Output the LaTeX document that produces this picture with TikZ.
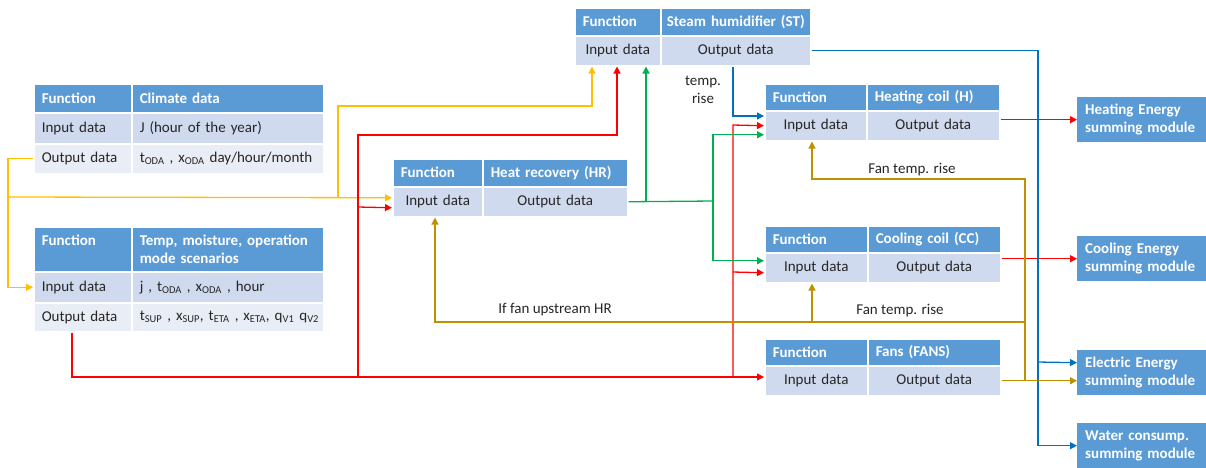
\documentclass[tikz,border=0pt]{standalone}
\usepackage{fontspec}
\setmainfont{Carlito}
\usetikzlibrary{arrows.meta}
\definecolor{hblue}{HTML}{5B9BD5}
\definecolor{bandA}{HTML}{D0DAEE}
\definecolor{bandB}{HTML}{E9EDF5}
\definecolor{ylw}{HTML}{FFC000}
\definecolor{gld}{HTML}{BF9000}
\definecolor{rd}{HTML}{FF0000}
\definecolor{blu}{HTML}{0070C0}
\definecolor{grn}{HTML}{00B050}
\definecolor{txt}{HTML}{262626}
\newcommand\cell[8]{%
  \pgfmathsetmacro\celltw{#4-16}%
  \node[#6, minimum width=#4pt, minimum height=#5pt, text width=\celltw pt, align=#7] (#1) at (#2,#3) {#8};}
\tikzset{
  cellbase/.style={draw=white, line width=1.5pt, inner xsep=8pt, inner ysep=0pt, anchor=north west},
  hdr/.style={cellbase, fill=hblue, text=white, font=\fontsize{15}{18}\selectfont\bfseries},
  bA/.style={cellbase, fill=bandA, text=txt},
  bB/.style={cellbase, fill=bandB, text=txt},
  modbox/.style={fill=hblue, text=white, font=\fontsize{15}{18}\selectfont\bfseries, anchor=north west,
    minimum width=129pt, minimum height=45pt, text width=113pt, inner xsep=8pt, inner ysep=0pt, align=left},
  ln/.style={line width=1.3pt},
  arr/.style={-{Triangle[length=7pt,width=7pt]}},
  lbl/.style={text=txt, align=center, inner sep=1pt},
}
\begin{document}
\begin{tikzpicture}[x=1pt,y=-1pt, font=\fontsize{15}{18}\selectfont]
\useasboundingbox (0,0) rectangle (1206,467);
% Climate data
\cell{Cf}{33}{83}{98}{29}{hdr}{left}{Function}
\cell{Ct}{131}{83}{192}{29}{hdr}{left}{Climate data}
\cell{Ci}{33}{112}{98}{31}{bA}{left}{Input data}
\cell{Civ}{131}{112}{192}{31}{bA}{left}{J (hour of the year)}
\cell{Co}{33}{143}{98}{30}{bB}{left}{Output data}
\cell{Cov}{131}{143}{192}{30}{bB}{left}{t\textsubscript{ODA} , x\textsubscript{ODA} day/hour/month}
% Scenarios
\cell{Sf}{33}{226}{98}{45}{hdr}{left}{Function\\~}
\cell{St}{131}{226}{192}{45}{hdr}{left}{\mbox{Temp, moisture, operation}\\mode scenarios}
\cell{Si}{33}{271}{98}{31}{bA}{left}{Input data}
\cell{Siv}{131}{271}{192}{31}{bA}{left}{j , t\textsubscript{ODA} , x\textsubscript{ODA} , hour}
\cell{So}{33}{302}{98}{29}{bB}{left}{Output data}
\cell{Sov}{131}{302}{192}{29}{bB}{left}{\mbox{t\textsubscript{SUP} , x\textsubscript{SUP}, t\textsubscript{ETA} , x\textsubscript{ETA}, q\textsubscript{V1} q\textsubscript{V2}}}
% Heat recovery
\cell{HRf}{392}{158}{90}{28}{hdr}{left}{Function}
\cell{HRt}{482}{158}{145}{28}{hdr}{left}{Heat recovery (HR)}
\cell{HRi}{392}{186}{90}{30}{bA}{center}{Input data}
\cell{HRo}{482}{186}{145}{30}{bA}{center}{Output data}
% Steam humidifier
\cell{STf}{574}{7}{86}{28}{hdr}{left}{Function}
\cell{STt}{660}{7}{150}{28}{hdr}{center}{\makebox[0pt]{Steam humidifier (ST)}}
\cell{STi}{574}{35}{86}{30}{bA}{center}{Input data}
\cell{STo}{660}{35}{150}{30}{bA}{center}{Output data}
% Heating coil
\cell{Hf}{764}{83}{102}{27}{hdr}{left}{Function}
\cell{Ht}{866}{83}{133}{27}{hdr}{left}{Heating coil (H)}
\cell{Hi}{764}{110}{102}{30}{bA}{center}{Input data}
\cell{Ho}{866}{110}{133}{30}{bA}{center}{Output data}
% Cooling coil
\cell{CCf}{764}{225}{103}{27}{hdr}{left}{Function}
\cell{CCt}{867}{225}{133}{27}{hdr}{left}{Cooling coil (CC)}
\cell{CCi}{764}{252}{103}{30}{bA}{center}{Input data}
\cell{CCo}{867}{252}{133}{30}{bA}{center}{Output data}
% Fans
\cell{Ff}{764}{338}{103}{27}{hdr}{left}{Function}
\cell{Ft}{867}{338}{133}{27}{hdr}{left}{Fans (FANS)}
\cell{Fi}{764}{365}{103}{30}{bA}{center}{Input data}
\cell{Fo}{867}{365}{133}{30}{bA}{center}{Output data}
% Summing modules
\node[modbox] (HE) at (1077,97) {Heating Energy\\summing module};
\node[modbox] (CE) at (1077,236) {Cooling Energy\\summing module};
\node[modbox] (EE) at (1077,350) {Electric Energy\\summing module};
\node[modbox] (WE) at (1077,423) {Water consump.\\summing module};
% Labels
\node[lbl] (t1) at (703,90) {temp.\\rise};
\node[lbl] (t2) at (912,170) {Fan temp. rise};
\node[lbl] (t3) at (900,311) {Fan temp. rise};
\node[lbl] (t4) at (555,310) {If fan upstream HR};
% coordinates
\coordinate (ya) at (592,106);
\coordinate (r0) at (72,377);
\coordinate (r1) at (358,135);
\coordinate (r1b) at (617,135);
\coordinate (r2) at (733,125);
\coordinate (b0) at (1038,50);
\coordinate (b1) at (733,116);
\coordinate (g0) at (713,201);
\coordinate (g1) at (646,201);
\coordinate (k0) at (1025,179);
\coordinate (k1) at (812,179);
\coordinate (k2) at (1025,322);
\coordinate (k3) at (435,322);
\coordinate (k4) at (812,322);
% yellow
\draw[ln,ylw,arr] (Co.west) -- ++(-25,0) |- (Si.west);
\draw[ln,ylw,arr] (8,197) -- ([yshift=4pt]HRi.west);
\draw[ln,ylw,arr] (338,197) |- (ya) -- (ya |- STi.south);
% red
\draw[ln,rd,arr] (So.south -| r0) -- (r0) -- (Fi.west |- r0);
\draw[ln,rd,arr] (358,377) -- (r1) -- (r1b) -- (r1b |- STi.south);
\draw[ln,rd,arr] (358,207) -- ([yshift=-6pt]HRi.west);
\draw[ln,rd,arr] (733,377) -- (r2) -- (Hi.west);
\draw[ln,rd,arr] (733,272) -- ([yshift=-5pt]CCi.west);
\draw[ln,rd,arr] (Ho.east |- HE.west) -- (HE.west);
\draw[ln,rd,arr] (CCo.east |- CE.west) -- (CE.west);
% blue
\draw[ln,blu,arr] (STo.east) -- (STo.east -| b0) |- (WE.west);
\draw[ln,blu,arr] (1038,362) -- ([yshift=10pt]EE.west);
\draw[ln,blu,arr] (STo.south -| b1) -- (b1) -- (Hi.west |- b1);
% green
\draw[ln,grn] (HRo.east) -- (g0);
\draw[ln,grn,arr] (g0) |- ([yshift=-9pt]Hi.west);
\draw[ln,grn,arr] (g0) |- ([yshift=7pt]CCi.west);
\draw[ln,grn,arr] (g1) -- (g1 |- STi.south);
% gold
\draw[ln,gld,arr] (Fo.east) -- (EE.west |- Fo.east);
\draw[ln,gld,arr] (Fo.east -| k0) -- (k0) -- (k1) -- (k1 |- Hi.south);
\draw[ln,gld,arr] (k2) -- (k3) -- (k3 |- HRi.south);
\draw[ln,gld,arr] (k4) -- (k4 |- CCi.south);
\end{tikzpicture}
\end{document}
